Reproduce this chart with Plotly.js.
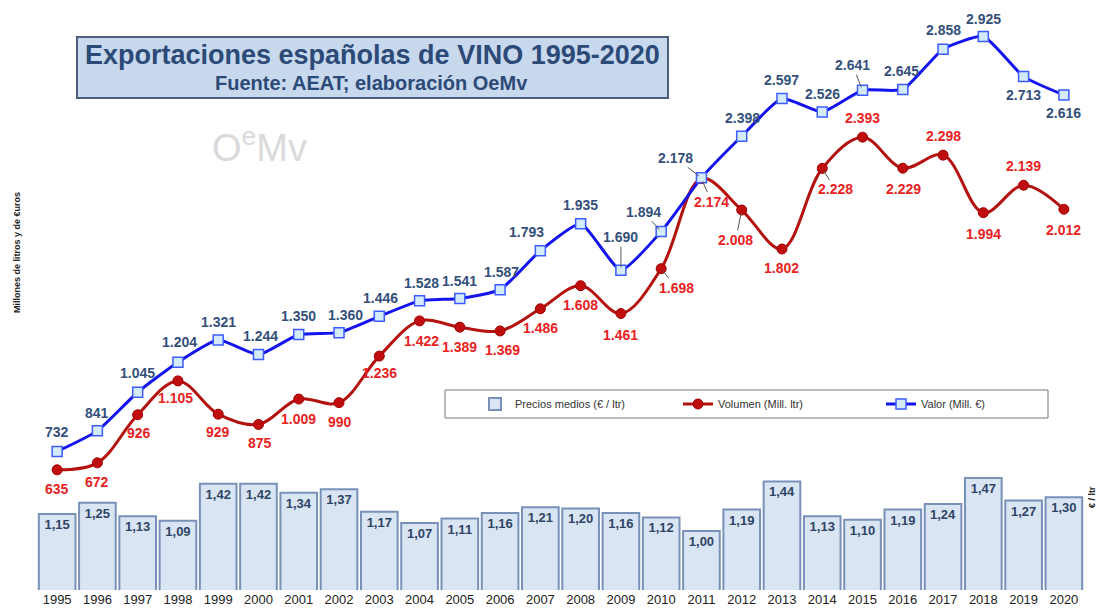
<!DOCTYPE html>
<html>
<head>
<meta charset="utf-8">
<script src="https://cdn.plot.ly/plotly-3.0.1.min.js"></script>
<style>html,body{margin:0;padding:0;background:#fff;}#chart{width:1097px;height:612px;}</style>
</head>
<body>
<div id="chart"></div>
<script>
// ---- data ----
const years = ['1995','1996','1997','1998','1999','2000','2001','2002','2003','2004','2005','2006','2007','2008','2009','2010','2011','2012','2013','2014','2015','2016','2017','2018','2019','2020'];
const precios = [1.15,1.25,1.13,1.09,1.42,1.42,1.34,1.37,1.17,1.07,1.11,1.16,1.21,1.20,1.16,1.12,1.00,1.19,1.44,1.13,1.10,1.19,1.24,1.47,1.27,1.30];
const volumen = [635,672,926,1105,929,875,1009,990,1236,1422,1389,1369,1486,1608,1461,1698,2174,2008,1802,2228,2393,2229,2298,1994,2139,2012];
const valor = [732,841,1045,1204,1321,1244,1350,1360,1446,1528,1541,1587,1793,1935,1690,1894,2178,2398,2597,2526,2641,2645,2858,2925,2713,2616];

// ---- label placement (pixel offsets from each point) ----
const valorOff = [[0,-19],[0,-18],[0,-19],[2,-20],[0,-18],[2,-19],[0,-19],[6,-18],[1,-18],[2,-18],[0,-17],[1,-18],[-14,-19],[0,-19],[0,-33],[-18,-20],[-26,-20],[1,-18],[0,-19],[0,-18],[-10,-25],[-1,-18],[0,-19],[0,-17],[0,18],[0,18]];
const valorLeader = [0,0,0,0,0,0,0,0,0,0,0,0,0,0,1,1,1,0,0,0,1,0,0,0,0,0];
const volOff = [[0,19],[0,19],[1,18],[-2,17],[0,18],[2,19],[0,20],[1,19],[0,17],[2,20],[0,20],[2,19],[0,19],[0,19],[0,21],[15,19],[10,23],[-6,30],[0,19],[13,21],[0,-19],[1,21],[0,-19],[0,21],[0,-19],[0,21]];
const volLeader = [0,0,0,0,0,0,0,0,0,0,0,0,0,0,0,1,1,1,0,1,0,0,0,0,0,0];

const fmtMiles = n => n >= 1000 ? Math.floor(n/1000) + '.' + String(n % 1000).padStart(3,'0') : String(n);
const fmtDec = v => v.toFixed(2).replace('.', ',');

// plot area: x 37..1084, y 10..590
const PX = x => (x - 37) / 1047;
const PY = y => (590 - y) / 580;
const FONT = 'Liberation Sans, Arial, sans-serif';

const traces = [
  {
    type: 'bar', name: 'Precios medios (€ / ltr)', x: years, y: precios, yaxis: 'y',
    marker: {color: '#dae5f3', line: {color: '#7891b8', width: 2}},
    text: precios.map(fmtDec), textposition: 'inside', insidetextanchor: 'end',
    textangle: 0, constraintext: 'none',
    textfont: {family: FONT, size: 13, color: '#2e4466', weight: 'bold'},
    hoverinfo: 'skip'
  },
  {
    type: 'scatter', mode: 'lines+markers', name: 'Volumen (Mill. ltr)', x: years, y: volumen, yaxis: 'y2',
    line: {color: '#b3120f', width: 3, shape: 'spline', smoothing: 1},
    marker: {symbol: 'circle', size: 10, color: '#c00d0d', line: {color: '#a00000', width: 1}},
    hoverinfo: 'skip'
  },
  {
    type: 'scatter', mode: 'lines+markers', name: 'Valor (Mill. €)', x: years, y: valor, yaxis: 'y2',
    line: {color: '#1414ee', width: 3, shape: 'spline', smoothing: 0.5},
    marker: {symbol: 'square', size: 10, color: '#d3ebfb', line: {color: '#3c5cff', width: 1.5}},
    hoverinfo: 'skip'
  }
];

const annotations = [];
valor.forEach((v, i) => {
  annotations.push({
    x: i, y: v, xref: 'x', yref: 'y2', text: fmtMiles(v),
    showarrow: true, ax: valorOff[i][0], ay: valorOff[i][1], arrowhead: 0, arrowwidth: 1,
    arrowcolor: valorLeader[i] ? '#555' : 'rgba(0,0,0,0)', standoff: 3,
    font: {family: FONT, size: 14, color: '#34507a', weight: 'bold'}
  });
});
volumen.forEach((v, i) => {
  annotations.push({
    x: i, y: v, xref: 'x', yref: 'y2', text: fmtMiles(v),
    showarrow: true, ax: volOff[i][0], ay: volOff[i][1], arrowhead: 0, arrowwidth: 1,
    arrowcolor: volLeader[i] ? '#555' : 'rgba(0,0,0,0)', standoff: 3,
    font: {family: FONT, size: 14, color: '#e8231f', weight: 'bold'}
  });
});
// titles and texts
annotations.push(
  {xref: 'paper', yref: 'paper', x: PX(372), y: PY(55), xanchor: 'center', yanchor: 'middle', showarrow: false,
   text: 'Exportaciones españolas de VINO 1995-2020', font: {family: FONT, size: 27, color: '#2c4a77', weight: 'bold'}},
  {xref: 'paper', yref: 'paper', x: PX(371), y: PY(83), xanchor: 'center', yanchor: 'middle', showarrow: false,
   text: 'Fuente: AEAT; elaboración OeMv', font: {family: FONT, size: 20, color: '#2c4a77', weight: 'bold'}},
  {xref: 'paper', yref: 'paper', x: PX(259), y: PY(145), xanchor: 'center', yanchor: 'middle', showarrow: false,
   text: 'O<sup>e</sup>Mv', font: {family: FONT, size: 38, color: '#dadada'}},
  {xref: 'paper', yref: 'paper', x: PX(17), y: PY(253), xanchor: 'center', yanchor: 'middle', showarrow: false,
   textangle: -90, text: 'Millones de litros y de €uros', font: {family: FONT, size: 9, color: '#222', weight: 'bold'}},
  {xref: 'paper', yref: 'paper', x: PX(1092), y: PY(497), xanchor: 'center', yanchor: 'middle', showarrow: false,
   textangle: -90, text: '€ / ltr', font: {family: FONT, size: 9, color: '#222', weight: 'bold'}}
);

const shapes = [
  {type: 'rect', xref: 'paper', yref: 'paper', x0: PX(77), x1: PX(668), y0: PY(98), y1: PY(37),
   fillcolor: '#c8d8ed', line: {color: '#4b5e7c', width: 2}, layer: 'below'},
  {type: 'rect', xref: 'paper', yref: 'paper', x0: PX(445), x1: PX(1048), y0: PY(418), y1: PY(390),
   fillcolor: '#ffffff', line: {color: '#777', width: 1}, layer: 'below'}
];

const layout = {
  width: 1097, height: 612,
  margin: {l: 37, r: 13, t: 10, b: 22, pad: 0, autoexpand: false},
  paper_bgcolor: '#ffffff', plot_bgcolor: 'rgba(0,0,0,0)',
  bargap: 0.09,
  showlegend: true,
  legend: {orientation: 'h', x: PX(475), y: PY(404), xanchor: 'left', yanchor: 'middle',
           bgcolor: 'rgba(0,0,0,0)', borderwidth: 0, entrywidth: 158, entrywidthmode: 'pixels',
           font: {family: FONT, size: 11, color: '#333'}, traceorder: 'normal'},
  xaxis: {type: 'category', range: [-0.5, 25.5], showgrid: false, zeroline: false, showline: false, ticks: '',
          tickangle: 0, automargin: false,
          tickfont: {family: FONT, size: 13, color: '#222'}, fixedrange: true},
  yaxis: {range: [0.477, 5.619], visible: false, showgrid: false, zeroline: false, fixedrange: true},
  yaxis2: {range: [0, 3065], overlaying: 'y', side: 'left', visible: false, showgrid: false, zeroline: false, fixedrange: true},
  annotations: annotations,
  shapes: shapes
};

Plotly.newPlot('chart', traces, layout, {displayModeBar: false, staticPlot: true});
</script>
</body>
</html>
